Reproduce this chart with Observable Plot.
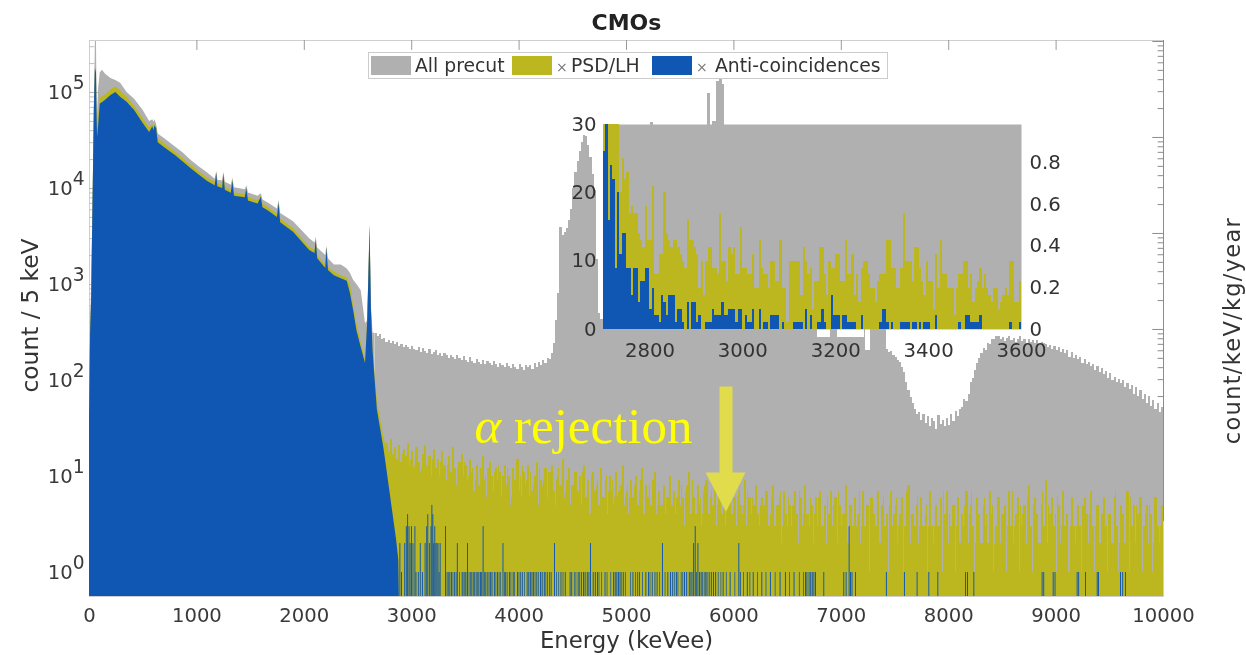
<!DOCTYPE html>
<html><head><meta charset="utf-8">
<script src="https://cdn.jsdelivr.net/npm/d3@7"></script>
<script src="https://cdn.jsdelivr.net/npm/@observablehq/plot@0.6"></script>
<style>
html,body{margin:0;padding:0;background:#fff;}
#stage{position:relative;width:1246px;height:655px;overflow:hidden;filter:blur(0.65px);font-family:"DejaVu Sans";}
#stage svg{position:absolute;}
#legend{position:absolute;left:368px;top:52px;width:518px;height:25px;background:#fff;border:1px solid #ccc;box-sizing:content-box;}
#legend .sw{position:absolute;top:3px;width:40px;height:19px;}
#legend .t{position:absolute;top:1px;font-size:18.8px;line-height:23px;color:#333;white-space:nowrap;}
#legend .x{position:absolute;top:3px;font-size:14px;line-height:23px;color:#777;}
</style></head><body>
<div id="stage"><div id="main"></div><div id="inset"></div>
<div id="legend">
<div class="sw" style="left:2px;background:#b0b0b0"></div><div class="t" style="left:46px">All precut</div>
<div class="sw" style="left:143px;background:#bdb71f"></div><div class="x" style="left:187px">×</div><div class="t" style="left:202px">PSD/LH</div>
<div class="sw" style="left:283px;background:#0f57b2"></div><div class="x" style="left:327px">×</div><div class="t" style="left:346px">Anti-coincidences</div>
</div></div>
<script>
const titleText = "CMOs";
const xLabel = "Energy (keVee)";
const leftLabel = "count / 5 keV";
const rightLabel = "count/keV/kg/year";
const colorGray = "#b0b0b0", colorYellow = "#bdb71f", colorBlue = "#0f57b2";
const yFloor = 0.562, yTop = 348000;
const rightFactor = 34;
const xTicks = [0,1000,2000,3000,4000,5000,6000,7000,8000,9000,10000];
const leftDecades = [1,10,100,1000,10000,100000];
const rightDecades = [0.1,1,10,100,1000,10000];
const minorSteps = [2,3,4,5,6,7,8,9];

// low-energy body of the spectrum
const bodyEnergy = [0,10,20,37,45,55,65,70,75,85,100,120,150,200,245,290,350,420,500,560,590,600,610,625,640,700,800,870,950,1030,1100,1170,1185,1195,1240,1250,1265,1320,1335,1350,1450,1465,1480,1570,1600,1615,1660,1750,1765,1780,1900,2050,2100,2110,2125,2200,2210,2225,2280,2345,2400,2430,2460,2490,2530,2570,2590,2605,2612,2625,2640,2660,2680,2740,2756,2800,2860,2880,2885];
const bodyBlue = [40,300,700,15000,65000,178000,160000,60000,34000,45000,76000,78000,83000,93000,100000,89000,79000,65000,47600,38300,44000,40000,45000,42000,30000,26500,22000,19000,16000,13600,11800,10700,14300,10400,10000,14000,9600,8900,12000,8300,8000,10000,7400,6900,8100,6300,5900,5000,7000,4400,3500,2260,2100,2900,1850,1470,2400,1400,1230,1150,1080,800,530,330,220,150,400,1780,4100,540,205,100,50,20,15,6.6,2.15,1.33,0.562];
const bodyYellow = [40,300,700,15000,66000,178000,160000,65000,38000,55000,88000,90000,95000,106000,115000,103000,90000,72000,53000,43000,46000,42000,47000,44000,33000,29000,24000,20500,17400,14700,12800,11600,14800,11200,10800,14300,10400,9600,12400,9000,8600,10300,8000,7500,8400,6800,6400,5400,7200,4800,3800,2450,2250,3000,2000,1600,2450,1500,1350,1230,1170,1000,600,390,250,165,410,1800,4100,550,215,110,62,26,22,null,null,null,null];
const bodyGray = [50,400,900,16000,70000,340000,340000,90000,60000,110000,160000,170000,155000,140000,133000,125000,100000,85000,65000,50000,52000,49000,52000,46000,37000,33000,27000,23500,19500,16500,14500,12500,15000,12200,12000,14800,11600,10800,12800,10200,9700,10700,9000,8300,8800,7600,7100,6100,7500,5500,4500,3000,2700,3100,2400,2000,2500,1850,1600,1600,1450,1300,1100,1000,860,390,420,1850,4200,600,310,310,null,null,null,null,null,null,null];

// gray tail, visible parts in 20 keV bins
const grayTailAStart = 2660;
const grayTailA = [310,290,300,265,275,250,262,240,255,235,248,225,238,218,232,222,210,226,212,205,222,198,214,200,190,208,186,196,205,182,192,178,190,184,170,182,172,165,180,168,160,176,162,155,172,158,150,166,155,148,160,146,156,150,142,158,146,138,152,144,135,150,140,132,148,138,130,146,136,128,144,135,142,130,150,138,155,142,160,150,170,165,190,240,420,800,3900,3200,3500,3800,4600,6000,10000,14500,19000,24000,30000,36000,35000,28000,21000,14000,9500,1800,500];
// alpha-peak region, mostly behind the inset
const grayPeakEnergy = [4760,4790,4850,5000,5150,5225,5250,5400,5600,5755,5780,5800,5835,5865,5890,5915,5940,5965,6100,6400,6700,6780,6845,6900,6935,6960,6995,7215,7225,7240,7275,7290,7350,7400,7420];
const grayPeak = [430,1500,3000,2500,6000,49000,8000,3000,10000,98000,15000,50000,130000,200000,120000,45000,12000,6000,4000,3000,600,280,280,700,400,280,280,600,205,205,1500,3000,800,800];
const grayTailCStart = 7420;
const grayTailC = [210,195,200,180,175,160,155,135,120,95,78,66,58,50,44,46,38,44,36,42,33,40,37,31,43,35,38,33,40,34,44,37,47,42,50,52,64,60,72,95,105,128,150,170,190,215,205,245,235,265,270,285,290,265,280,255,275,290,260,275,250,270,285,255,265,245,270,250,262,240,258,235,250,240,235,220,232,212,225,205,218,198,210,190,205,175,195,170,180,165,172,150,165,145,155,140,148,128,140,120,132,115,124,105,118,100,108,96,102,92,100,85,94,80,88,72,84,68,78,64,72,58,68,54,62,50,58,46,52];

// yellow tail in 20 keV bins, from 2760 keV
const yellowTailStart = 2760;
const yellowTail = [22,18,24,17,20,15,21,14,19,16,22,13,18,12,20,14,11,17,21,13,16,10,19,12,15,10,18,13,9,16,11,20,12,8,14,17,10,13,9,15,11,7,13,8,12,16,9,6,14,10,7,12,9,11,6,13,8,10,5,12,9,15,7,6,11,8,13,6,7,10,14,5,9,8,12,6,11,13,7,5,10,8,15,6,9,12,5,8,11,7,10,5,13,6,9,4,11,7,8,5,12,6,9,4,10,7,5,11,6,8,13,5,7,4,9,6,10,5,7,12,4,8,6,5,9,11,4,7,5,8,4,6,10,5,7,4,9,5,6,3,8,11,4,6,4,8,5,3,7,9,4,6,5,8,3,6,4,7,3,5,8,4,6,3,7,5,4,9,3,6,4,5,8,4,3,6,5,7,3,4,8,3,5,6,2,7,4,3,5,3,7,4,2,6,3,8,4,3,5,2,6,3,7,3,5,2,4,7,3,6,2,5,3,4,8,2,5,3,6,3,4,2,7,3,5,1,6,4,3,7,2,5,3,4,1,7,3,5,2,4,6,1,3,8,2,4,3,5,2,6,3,4,1,7,3,2,5,3,6,1,4,7,2,3,5,1,6,2,4,3,7,2,5,3,1,6,4,2,5,3,2,7,4,1,3,6,2,4,5,1,7,3,2,4,6,1,3,5,2,8,3,1,6,4,2,5,3,9,2,4,6,3,1,5,2,7,3,4,1,6,3,2,5,3,1,6,4,2,7,3,1,5,2,4,6,3,1,4,2,6,3,1,5,4,2,7,1,3,5,2,4,6,1,3,5,2,4,1,6,3,2,5];
// finer yellow spikes, one per 20 keV, 10 keV wide, from 2770 keV
const yellowFineStart = 2770;
const yellowFine = [14,12,16,11,15,13,10,17,12,14,11,15,10,13,16,11,12,14,10,13,9,15,11,12,9,14,10,8,13,11,9,15,10,12,8,11,14,9,10,7,12,9,13,8,11,7,10,12,8,9,11,7,13,8,10,7,12,9,6,11,8,7,10,13,7,9,6,11,8,10,7,12,6,9,8,11,7,10,6,9,12,7,8,7,6,10,8,5,9,7,6,11,7,5,8,10,6,7,9,5,8,6,10,7,5,9,6,8,7,5,10,6,8,6,5,8,7,5,9,6,4,7,8,5,6,10,5,7,4,8,6,5,9,4,7,6,5,8,4,7,5,6,9,5,4,7,6,4,8,5,3,7,4,6,5,8,4,3,6,5,7,3,4,6,8,4,5,3,7,4,6,3,5,3,5,4,7,3,2,6,4,3,5,7,3,4,2,6,3,5,4,3,7,2,4,5,3,6,2,4,3,6,4,2,4,6,3,2,5,3,7,2,4,3,6,2,5,3,2,4,7,3,2,5,3,6,2,4,3,2,5,6,3,3,5,2,4,6,3,2,5,3,7,2,4,3,2,6,3,4,2,5,3,6,2,3,5,2,4,7,2,3,4,2,4,3,6,2,3,5,2,4,7,3,2,5,3,2,6,4,2,3,5,2,6,3,4,2,5,3,2,7,3,3,2,5,4,2,6,3,2,5,3,4,2,7,3,2,5,3,2,4,6,2,3,5,2,4,3,6,2,3,5,2,5,3,2,4,6,2,3,5,2,3,6,2,4,3,2,7,3,2,5,3,2,4,6,2,3,5,2,4,3,4,2,5,3,2,6,2,3,4];

// isolated blue events above the body
const blueEventEnergy = [2890,2905,2935,2950,2962,2975,2985,2998,3012,3030,3040,3062,3080,3100,3125,3140,3150,3165,3180,3188,3197,3205,3215,3225,3235,3245,3255,3265,3315,3340,3355,3370,3400,3425,3470,3495,3505,3520,3560,3600,3625,3640,3652,3665,3690,3720,3735,3748,3770,3800,3850,3875,3910,3945,3985,4030,4075,4090,4105,4120,4135,4165,4200,4215,4235,4285,4330,4390,4430,4475,4490,4550,4580,4600,4615,4635,4650,4665,4690,4710,4730,4800,4880,4895,4910,4925,4950,4970,5060,5120,5180,5205,5240,5265,5285,5335,5385,5410,5430,5465,5540,5560,5585,5610,5625,5640,5650,5665,5680,5695,5710,5730,5750,5770,5790,5810,5830,5900,5965,6046,6060,6125,6180,6260,6340,6430,6480,6560,6667,6680,6700,6715,6730,6745,6760,6837,7023,7045,7073,7086,7100,7132,7420,7588,7706,7815,7899,8157,8175,8234,8870,8885,8973,8990,9196,9210,9274,9383,9395,9600,9620,9646];
const blueEventCount = [2,1,2,3,4,3,2,3,2,3,1,1,2,1,2,3,4,2,3,5,4,2,3,2,2,2,1,2,3,1,1,1,1,2,1,1,1,2,1,1,1,1,1,3,1,1,1,1,1,1,2,1,1,1,1,1,1,1,1,1,1,1,1,1,1,1,2,1,1,1,1,1,1,1,1,1,1,2,1,1,1,1,1,1,1,1,1,1,1,1,1,1,1,1,1,2,1,1,1,1,1,1,1,1,2,3,1,2,1,1,1,1,1,1,1,1,1,1,1,2,1,1,1,1,1,1,1,1,1,1,1,1,1,1,1,1,1,1,3,1,1,1,1,1,1,1,1,1,1,1,1,1,1,1,1,1,1,1,1,1,1,1];
// further single-count blue events
const blueSingleEnergy = [3330,3385,3415,3445,3480,3535,3550,3575,3585,3612,3680,3705,3785,3815,3830,3865,3890,3925,3960,4000,4015,4050,4150,4180,4250,4265,4300,4350,4370,4410,4515,4530,4565,4745,4770,4820,4855,4940,4990,5040,5085,5105,5150,5220,5310,5360,5450,5480,5510,5525,5600,5740,5855,5880,5930,6010,6090,6150,6220,6300,6385,6520,6610,6650];

// arrow and annotation
const arrowEnergy = [5866,5987,5987,6108,5926,5736,5866];
const arrowCounts = [86.6,86.6,11,11,4.3,11,11];
const annotationText = "α rejection";

// inset: 5 keV bins from 2700 to 3600 keV
const insetStart = 2700;
const insetYellow = [30,30,30,30,30,30,30,20,25,22,23,17,18,17,17,14,13,12,18,13,13,21,8,8,11,11,20,14,13,12,13,13,12,11,10,9,16,13,13,12,11,6,10,5,10,12,12,9,9,8,17,10,10,7,12,11,12,8,8,15,9,9,8,8,11,6,6,13,9,8,8,6,10,10,7,7,13,6,6,1,10,10,10,10,10,5,12,10,8,9,3,7,7,12,12,8,5,10,9,9,11,11,7,7,13,8,8,11,5,8,4,9,10,10,8,6,6,4,7,8,8,8,13,13,9,9,6,6,9,17,10,10,10,7,12,12,9,7,5,10,7,7,3,11,6,13,8,8,6,6,6,2,6,8,8,10,10,6,8,4,6,7,9,6,8,6,5,4,6,6,3,4,5,6,5,10,10,4,4,7];
const insetBlue = [26,30,16,24,22,9,20,11,14,14,9,9,5,9,9,4,7,7,9,9,3,6,2,2,1,5,4,2,5,5,5,1,3,3,1,0,4,0,4,4,1,2,0,0,1,1,1,3,2,2,2,4,2,2,3,3,3,1,3,3,0,2,1,1,3,0,0,3,0,1,1,0,2,2,2,2,0,1,0,0,0,0,1,1,1,1,0,3,0,2,0,0,1,1,3,1,0,0,5,2,2,2,0,2,2,1,1,1,1,0,0,2,0,0,0,0,0,0,0,1,3,3,1,0,1,0,0,0,1,1,1,1,0,1,1,0,1,0,1,1,1,0,0,2,0,0,0,0,0,0,0,0,0,1,0,0,2,2,1,1,1,1,2,0,0,0,0,0,0,0,0,0,0,0,0,1,0,0,0,1];
const insetXTicks = [2800,3000,3200,3400,3600];
const insetYTicks = [0,10,20,30];
const insetRightTicks = [0,0.2,0.4,0.6,0.8];
const insetRightFactor = 30.56;

const bins = (start, vals, w) => vals.map((v,i)=>({x1:start+i*w,x2:start+(i+1)*w,v}));
const body = bodyEnergy.map((e,i)=>({e,b:bodyBlue[i],y:bodyYellow[i],g:bodyGray[i]}));
const grayPeakBins = grayPeak.map((v,i)=>({x1:grayPeakEnergy[i],x2:grayPeakEnergy[i+1],v}));
const grayBins = [...bins(grayTailAStart,grayTailA,20),...grayPeakBins,...bins(grayTailCStart,grayTailC,20)];
const yellowBins = bins(yellowTailStart,yellowTail,20);
const yellowFineBins = yellowFine.map((v,i)=>({x1:yellowFineStart+i*20,x2:yellowFineStart+i*20+10,v}));
const blueBins = [...blueEventEnergy.map((e,i)=>({x1:e,x2:e+9,v:blueEventCount[i]})),...blueSingleEnergy.map(e=>({x1:e,x2:e+7,v:1}))];
const rect = (data,fill,crisp=true)=>Plot.rect(data,{x1:"x1",x2:"x2",y1:()=>yFloor,y2:"v",fill,shapeRendering:crisp?"crispEdges":"auto"});
const area = (key,fill)=>Plot.area(body,{x1:"e",y1:()=>yFloor,y2:key,fill,defined:d=>d[key]!=null});
const pow = d=>`10^${Math.round(Math.log10(d))}`;
const leftMinor = leftDecades.flatMap(d=>minorSteps.map(m=>m*d)).filter(v=>v<yTop&&v>yFloor);
const rightMajor = rightDecades.map(d=>d*rightFactor);
const rightMinor = [0.01,...rightDecades].flatMap(d=>minorSteps.map(m=>m*d*rightFactor)).filter(v=>v<yTop&&v>yFloor);
const tickDX = 100, tickDXminor = 50;

const main = Plot.plot({
  width:1246,height:655,marginLeft:89,marginRight:83,marginTop:40,marginBottom:59,
  style:{fontFamily:"DejaVu Sans",fontSize:"19.6px",color:"#3a3a3a",background:"transparent"},
  x:{domain:[0,10000]},
  y:{type:"log",domain:[yFloor,yTop]},
  marks:[
    Plot.frame({stroke:"#cfcfcf"}),
    Plot.ruleX([10000],{y1:3.4,y2:yTop,stroke:"#8c8c8c"}),
    Plot.ruleX(xTicks.slice(1,-1),{x:d=>d,y1:()=>yTop,y2:()=>yTop/1.27,stroke:"#9a9a9a"}),
    Plot.ruleY(leftDecades,{y:d=>d,x1:()=>0,x2:()=>tickDX,stroke:"#b5b5b5"}),
    Plot.ruleY(leftMinor,{y:d=>d,x1:()=>0,x2:()=>tickDXminor,stroke:"#c0c0c0"}),
    Plot.ruleY(rightMajor,{y:d=>d,x1:()=>10000-tickDX,x2:()=>10000,stroke:"#8c8c8c"}),
    Plot.ruleY(rightMinor,{y:d=>d,x1:()=>10000-tickDXminor,x2:()=>10000,stroke:"#8c8c8c"}),
    area("g",colorGray),
    rect(grayBins,colorGray),
    area("y",colorYellow),
    rect(yellowBins,colorYellow),
    rect(yellowFineBins,colorYellow),
    area("b",colorBlue),
    rect(blueBins,colorBlue,false),
    Plot.line(arrowEnergy.map((e,i)=>({e,c:arrowCounts[i]})),{x:"e",y:"c",fill:"#e0dc4c",stroke:"none"}),
    Plot.text([annotationText],{x:()=>3585,y:()=>33,text:d=>d,textAnchor:"start",fill:"#ffff00",fontFamily:"Liberation Serif",fontSize:51}),
    Plot.text([titleText],{frameAnchor:"top",lineAnchor:"middle",dy:-18,text:d=>d,fontWeight:"bold",fontSize:22,fill:"#222"}),
    Plot.text([rightLabel],{frameAnchor:"right",rotate:-90,textAnchor:"middle",lineAnchor:"middle",dx:69,dy:12,text:d=>d,fontSize:22.5,fill:"#333"}),
    Plot.axisX(xTicks,{anchor:"bottom",tickSize:0,tickPadding:12,label:null,tickFormat:d=>String(d)}),
    Plot.text([xLabel],{frameAnchor:"bottom",lineAnchor:"middle",dy:44,text:d=>d,fontSize:22.8,fill:"#333"}),
    Plot.text([leftLabel],{frameAnchor:"left",rotate:-90,textAnchor:"middle",dx:-59,dy:-3,text:d=>d,fontSize:23.4,fill:"#333"}),
    Plot.axisY(leftDecades,{anchor:"left",tickSize:0,tickPadding:5,tickFormat:pow,label:null}),
    Plot.axisY(rightMajor,{anchor:"right",tickSize:0,tickPadding:9,tickFormat:d=>pow(d/rightFactor),label:null})
  ]
});
document.getElementById("main").append(main);

const insetBins = (vals)=>vals.map((v,i)=>({x1:insetStart+i*5,x2:insetStart+(i+1)*5,v}));
const inset = Plot.plot({
  width:500,height:250,marginLeft:43,marginRight:39,marginTop:14,marginBottom:31,
  style:{fontFamily:"DejaVu Sans",fontSize:"19.7px",color:"#333",background:"transparent"},
  x:{domain:[2700,3600]},
  y:{domain:[0,30]},
  marks:[
    Plot.frame({fill:colorGray}),
    Plot.rect(insetBins(insetYellow),{x1:"x1",x2:"x2",y1:()=>0,y2:"v",fill:colorYellow,shapeRendering:"crispEdges"}),
    Plot.rect(insetBins(insetBlue),{x1:"x1",x2:"x2",y1:()=>0,y2:"v",fill:colorBlue,shapeRendering:"crispEdges"}),
    Plot.axisX(insetXTicks,{anchor:"bottom",tickSize:0,tickPadding:13,label:null,tickFormat:d=>String(d)}),
    Plot.axisY(insetYTicks,{anchor:"left",tickSize:0,tickPadding:7,label:null}),
    Plot.axisY(insetRightTicks.map(v=>v*insetRightFactor),{anchor:"right",tickSize:0,tickPadding:8,label:null,tickFormat:d=>{const r=Math.round(d/insetRightFactor*10)/10;return r===0?"0":r.toFixed(1);}})
  ]
});
inset.style.left="560px";inset.style.top="110px";
document.getElementById("inset").append(inset);

// raised exponents, italic alpha and label spacing, on the real text nodes
d3.select(main).selectAll("text").each(function(){
  const t=d3.select(this), s=t.text();
  const m=s.match(/^10\^(-?\d+)$/);
  if(m){
    t.text(null);
    t.append("tspan").text("10");
    t.append("tspan").attr("dy","-0.5em").attr("font-size","0.95em").text(m[1]);
  } else if(s===annotationText){
    t.text(null);
    t.append("tspan").attr("font-style","italic").text("α");
    t.append("tspan").text(" rejection");
  } else if(s===rightLabel){
    t.attr("letter-spacing","1.3px");
  }
});
</script></body></html>
